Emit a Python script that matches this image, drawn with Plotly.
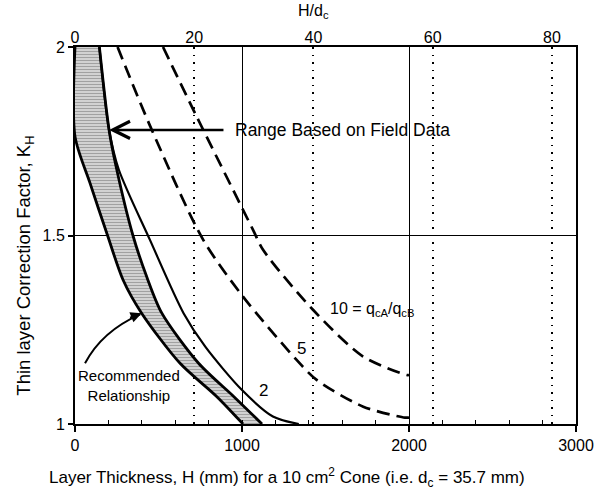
import plotly.graph_objects as go

D_C = 35.7  # cone diameter, mm

# Shaded band (range based on field data) - left/lower boundary
band_left_H = [0, 0, 90, 195, 288, 399, 629, 848, 1006]
band_left_K = [2.0, 1.763, 1.639, 1.50, 1.382, 1.294, 1.161, 1.073, 1.0]
# Shaded band - right/upper boundary
band_right_H = [146, 204, 246, 347, 430, 520, 740, 950, 1120]
band_right_K = [2.0, 1.78, 1.683, 1.5, 1.39, 1.294, 1.161, 1.073, 1.0]

# qcA/qcB = 2 (solid)
c2_H = [146, 204, 262, 448, 650, 780, 1000, 1185, 1340]
c2_K = [2.0, 1.78, 1.675, 1.489, 1.294, 1.205, 1.09, 1.02, 1.0]
# qcA/qcB = 5 (dashed)
c5_H = [255, 459, 767, 1006, 1327, 1447, 1726, 1976, 2000]
c5_K = [2.0, 1.781, 1.489, 1.338, 1.17, 1.117, 1.046, 1.017, 1.017]
# qcA/qcB = 10 (dashed)
c10_H = [527, 728, 1066, 1126, 1425, 1725, 1986, 2000]
c10_K = [2.0, 1.816, 1.515, 1.462, 1.303, 1.179, 1.13, 1.13]

top_ticks = [0, 20, 40, 60, 80]
y_ticks = [1, 1.5, 2]

FONT = "Liberation Sans, Arial, Helvetica, sans-serif"
SPL = dict(shape="spline", smoothing=0.8)

fig = go.Figure()

# shaded band
fig.add_trace(go.Scatter(
    x=band_left_H + band_right_H[::-1],
    y=band_left_K + band_right_K[::-1],
    mode="none", fill="toself",
    fillcolor="#c8c8c8",
    fillpattern=dict(shape="-", fgcolor="#707070", bgcolor="#d2d2d2", size=3, solidity=0.35),
    line=SPL,
    hoverinfo="skip", showlegend=False))
fig.add_trace(go.Scatter(x=band_left_H, y=band_left_K, mode="lines",
                         line=dict(color="black", width=2.8, **SPL),
                         showlegend=False, hoverinfo="skip"))
fig.add_trace(go.Scatter(x=band_right_H, y=band_right_K, mode="lines",
                         line=dict(color="black", width=2.8, **SPL),
                         showlegend=False, hoverinfo="skip"))
fig.add_trace(go.Scatter(x=c2_H, y=c2_K, mode="lines",
                         line=dict(color="black", width=2.2, **SPL),
                         showlegend=False, hoverinfo="skip"))
fig.add_trace(go.Scatter(x=c5_H, y=c5_K, mode="lines",
                         line=dict(color="black", width=2.7, dash="13px,7px", **SPL),
                         showlegend=False, hoverinfo="skip"))
fig.add_trace(go.Scatter(x=c10_H, y=c10_K, mode="lines",
                         line=dict(color="black", width=2.7, dash="13px,7px", **SPL),
                         showlegend=False, hoverinfo="skip"))
# anchor traces for the top (H/dc) axis and the minor-tick axis
fig.add_trace(go.Scatter(x=[0, 3000 / D_C], y=[None, None], xaxis="x2", mode="lines",
                         showlegend=False, hoverinfo="skip"))
fig.add_trace(go.Scatter(x=[0, 3000], y=[None, None], xaxis="x3", mode="lines",
                         showlegend=False, hoverinfo="skip"))

fig.update_layout(
    width=598, height=491,
    margin=dict(l=75, r=22, t=47, b=67, autoexpand=False),
    paper_bgcolor="white", plot_bgcolor="white",
    font=dict(family=FONT, size=16, color="black"),
    xaxis=dict(range=[0, 3000], tickmode="linear", tick0=0, dtick=1000,
               showgrid=True, gridcolor="black", gridwidth=1.3,
               zeroline=False, showline=True, linecolor="black", linewidth=2, mirror=True,
               ticks="outside", ticklen=6, tickwidth=1.5, tickcolor="black", automargin=False,
               tickfont=dict(size=16)),
    xaxis3=dict(range=[0, 3000], overlaying="x", side="bottom", tickmode="linear", tick0=0, dtick=200,
                ticks="inside", ticklen=4, tickwidth=1.4, tickcolor="black", showticklabels=False,
                showgrid=False, zeroline=False, showline=False, automargin=False),
    xaxis2=dict(range=[0, 3000 / D_C], overlaying="x", side="top", tickvals=top_ticks,
                showgrid=True, gridcolor="black", gridwidth=1.6, griddash="1.5px,6px",
                zeroline=False, showline=False, ticks="", automargin=False, tickfont=dict(size=16)),
    yaxis=dict(range=[1, 2], tickvals=y_ticks, showgrid=True, gridcolor="black", gridwidth=1.3,
               zeroline=False, showline=True, linecolor="black", linewidth=2, mirror=True,
               ticks="outside", ticklen=5, tickwidth=1.5, tickcolor="black", automargin=False,
               tickfont=dict(size=16)),
)

ann = []
# axis titles
ann.append(dict(text="Layer Thickness, H (mm) for a 10 cm<sup>2</sup> Cone (i.e. d<sub>c</sub> = 35.7 mm)",
                xref="paper", yref="paper", x=0.423, y=-0.141, showarrow=False,
                xanchor="center", yanchor="middle", font=dict(size=17)))
ann.append(dict(text="Thin layer Correction Factor, K<sub>H</sub>",
                xref="paper", yref="paper", x=-0.0998, y=0.42, showarrow=False, textangle=-90,
                xanchor="center", yanchor="middle", font=dict(size=18.5)))
ann.append(dict(text="H/d<sub>c</sub>", xref="paper", yref="paper", x=0.477, y=1.094,
                showarrow=False, xanchor="center", yanchor="middle", font=dict(size=16)))
# Range arrow
ann.append(dict(text=" ", x=204, y=1.78, ax=910, ay=1.78, axref="x", ayref="y", xref="x", yref="y",
                showarrow=True, arrowhead=5, arrowsize=1.3, arrowwidth=2.6, arrowcolor="black"))
ann.append(dict(text="Range Based on Field Data", x=946, y=1.78, xref="x", yref="y",
                showarrow=False, xanchor="left", yanchor="middle", font=dict(size=17.5)))
# Recommended relationship
ann.append(dict(text="Recommended<br>Relationship", x=323, y=1.103, xref="x", yref="y",
                showarrow=False, xanchor="center", yanchor="middle", font=dict(size=15)))
ann.append(dict(text=" ", x=399, y=1.294, ax=-15, ay=6, xref="x", yref="y",
                showarrow=True, arrowhead=2, arrowsize=1.1, arrowwidth=2, arrowcolor="black"))
# curve labels
ann.append(dict(text="2", x=1126, y=1.088, xref="x", yref="y", showarrow=False, font=dict(size=17)))
ann.append(dict(text="5", x=1357, y=1.201, xref="x", yref="y", showarrow=False, font=dict(size=17)))
ann.append(dict(text="10 = q<sub>cA</sub>/q<sub>cB</sub>", x=1515, y=1.303, xref="x", yref="y",
                showarrow=False, xanchor="left", yanchor="middle", font=dict(size=16)))
fig.update_layout(annotations=ann)

fig.add_shape(type="path", path="M 60,1.161 Q 160,1.246 390,1.291", xref="x", yref="y",
              line=dict(color="black", width=2))

fig.write_html("out.html", config={"displayModeBar": False},
               post_script="document.body.style.margin='0';document.body.style.overflow='hidden';")
